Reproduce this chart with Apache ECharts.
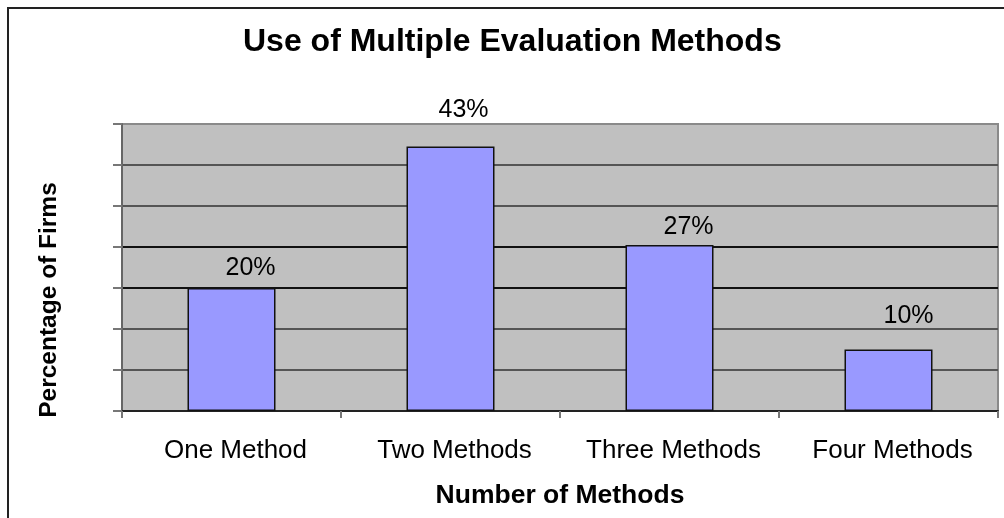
<!DOCTYPE html>
<html>
<head>
<meta charset="utf-8">
<script src="https://cdn.jsdelivr.net/npm/echarts@6/dist/echarts.min.js"></script>
<style>
html,body{margin:0;padding:0;background:#fff;}
#c{width:1004px;height:518px;}
</style>
</head>
<body>
<div id="c"></div>
<script>
// Data
var titleText = 'Use of Multiple Evaluation Methods';
var categories = ['One Method', 'Two Methods', 'Three Methods', 'Four Methods'];
var values = [20, 43, 27, 10];
var labels = ['20%', '43%', '27%', '10%'];
var xName = 'Number of Methods';
var yName = 'Percentage of Firms';
var yMin = 0;
var yStep = 20 / 3;
var yMax = 140 / 3;

// Style (label placement as in the original)
var labelOffsets = [[19, -2], [13, -19], [19, 0], [20, -16]];

var FONT = 'Liberation Sans, Arial, sans-serif';
var chart = echarts.init(document.getElementById('c'), null, {renderer: 'canvas'});

var seriesData = values.map(function (v, i) {
  return {
    value: v,
    label: { formatter: labels[i], offset: labelOffsets[i] }
  };
});

chart.setOption({
  animation: false,
  backgroundColor: '#ffffff',
  title: {
    text: titleText,
    left: 238,
    top: 21,
    textStyle: { fontFamily: FONT, fontSize: 32, fontWeight: 'bold', color: '#000' }
  },
  grid: {
    left: 122, right: 6, top: 124, bottom: 107,
    show: true, backgroundColor: '#C0C0C0', borderColor: '#8a8a8a', borderWidth: 2
  },
  xAxis: {
    type: 'category',
    data: categories,
    name: xName,
    nameLocation: 'middle',
    nameGap: 71,
    nameTextStyle: { fontFamily: FONT, fontSize: 26.5, fontWeight: 'bold', color: '#000' },
    axisLine: { show: true, lineStyle: { color: '#222', width: 2 } },
    axisTick: { show: true, interval: 0, length: 7, inside: false, lineStyle: { color: '#777', width: 2 } },
    axisLabel: { interval: 0, hideOverlap: false, fontFamily: FONT, fontSize: 26, color: '#000', margin: 27, padding: [0, 0, 0, 8] },
    splitLine: { show: false }
  },
  yAxis: {
    type: 'value',
    min: yMin, max: yMax, interval: yStep,
    axisLine: { show: true, lineStyle: { color: '#666', width: 2 } },
    axisTick: { show: true, length: 9, inside: false, lineStyle: { color: '#777', width: 2 } },
    axisLabel: { show: false },
    splitLine: {
      show: true,
      lineStyle: { color: ['#222', '#555', '#555', '#111', '#111', '#555', '#555', '#8a8a8a'], width: 2 }
    }
  },
  series: [{
    type: 'bar',
    data: seriesData,
    barWidth: 88,
    itemStyle: { color: '#9999FF', borderColor: '#111', borderWidth: 1.5 },
    label: {
      show: true,
      position: 'top',
      distance: 5,
      fontFamily: FONT,
      fontSize: 25,
      color: '#000'
    }
  }],
  graphic: [{
    type: 'rect',
    shape: { x: 8, y: 8, width: 1100, height: 600 },
    style: { fill: 'none', stroke: '#222', lineWidth: 2 },
    silent: true
  }, {
    type: 'text',
    x: 49, y: 300,
    rotation: Math.PI / 2,
    style: {
      text: yName,
      fontFamily: FONT, fontSize: 24.5, fontWeight: 'bold', fill: '#000',
      align: 'center', verticalAlign: 'middle'
    },
    silent: true
  }]
});
</script>
</body>
</html>
